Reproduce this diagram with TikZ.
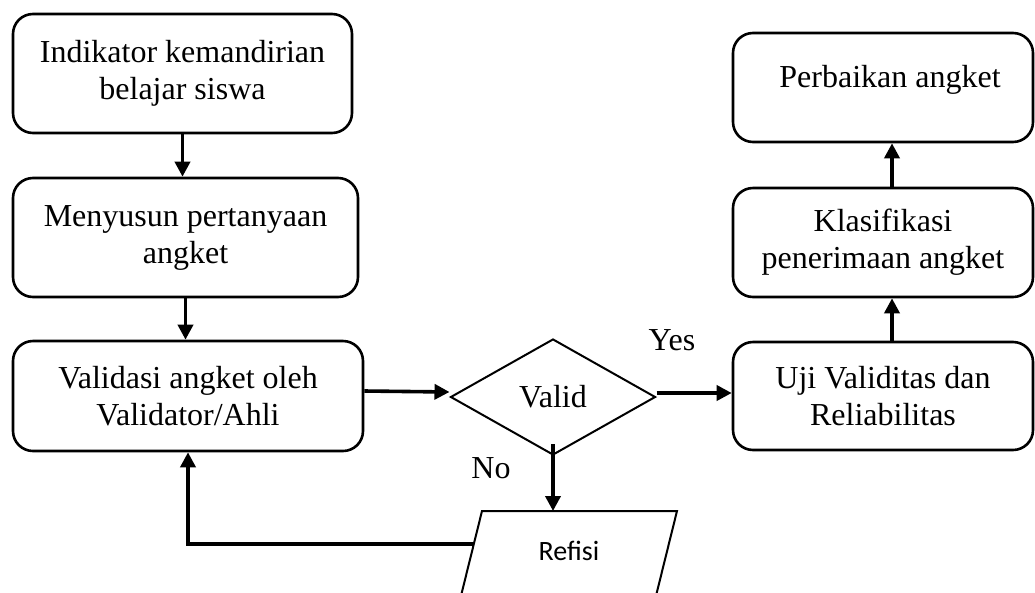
\documentclass[tikz,border=0pt]{standalone}
\usepackage{fontspec}
\setmainfont{Liberation Serif}[Ligatures=NoCommon]
\newfontfamily\labelsans{Carlito}
\usetikzlibrary{arrows.meta,shapes.geometric}
\begin{document}
\begin{tikzpicture}[x=1pt,y=-1pt,
  txt/.style={font=\fontsize{32}{37}\selectfont, inner sep=0pt, align=center},
  box/.style={txt, draw, line width=2.6pt, rounded corners=20pt},
  flow/.style={line width=3.6pt, -{Triangle[length=15pt,width=15pt]}}]
\useasboundingbox (0,0) rectangle (1035,592);
\clip (0,0) rectangle (1035,592);

% left column
\node[box, minimum width=339pt, minimum height=119pt] (b1) at (182.5,73.5)
  {Indikator kemandirian\\belajar siswa};
\node[box, minimum width=345pt, minimum height=119pt] (b2) at (185.5,237.5)
  {Menyusun pertanyaan\\angket};
\node[box, minimum width=350pt, minimum height=110pt] (b3) at (188,396)
  {Validasi angket oleh\\Validator/Ahli};

% decision
\node[txt, draw, diamond, aspect=1.77, minimum width=205pt, minimum height=116pt,
  line width=2pt] (dia) at (553,397) {Valid};

% right column
\node[box, minimum width=300pt, minimum height=108pt] (uji) at (883,396)
  {Uji Validitas dan\\Reliabilitas};
\node[box, minimum width=300pt, minimum height=109pt] (klas) at (883,242.5)
  {Klasifikasi\\penerimaan angket};
\node[box, minimum width=300pt, minimum height=109pt] (perb) at (883,87.5) {};
\node[txt] (perbtext) at (890,80) {Perbaikan angket};

% revision (input/output parallelogram)
\draw[line width=2pt] (482,511) -- (677,511) -- (650,620) -- (455,620) -- cycle;
\coordinate (reftop) at (553,511);
\coordinate (refleft) at (474,544);
\node[font=\labelsans\fontsize{28}{33}\selectfont, inner sep=0pt] (ref) at (569,551) {Refisi};

% branch labels
\node[txt] (yes) at (672,340) {Yes};
\node[txt] (no) at (491,468) {No};

% connectors
\draw[flow] (b1.south) -- (b1.south |- b2.north);
\draw[flow] (b2.south) -- (b2.south |- b3.north);
\draw[flow] ([yshift=5pt]b3.east) -- ([yshift=5pt]dia.west);
\draw[flow] ([yshift=4pt]dia.east) -- ([yshift=4pt]dia.east -| uji.west);
\draw[flow] ([yshift=12pt]dia.south) -- (reftop);
\draw[flow] (refleft) -- (refleft -| b3.south) -- (b3.south);
\draw[flow] ([xshift=9pt]uji.north) -- ([xshift=9pt]klas.south);
\draw[flow] ([xshift=9pt]klas.north) -- ([xshift=9pt]perb.south);
\end{tikzpicture}
\end{document}
